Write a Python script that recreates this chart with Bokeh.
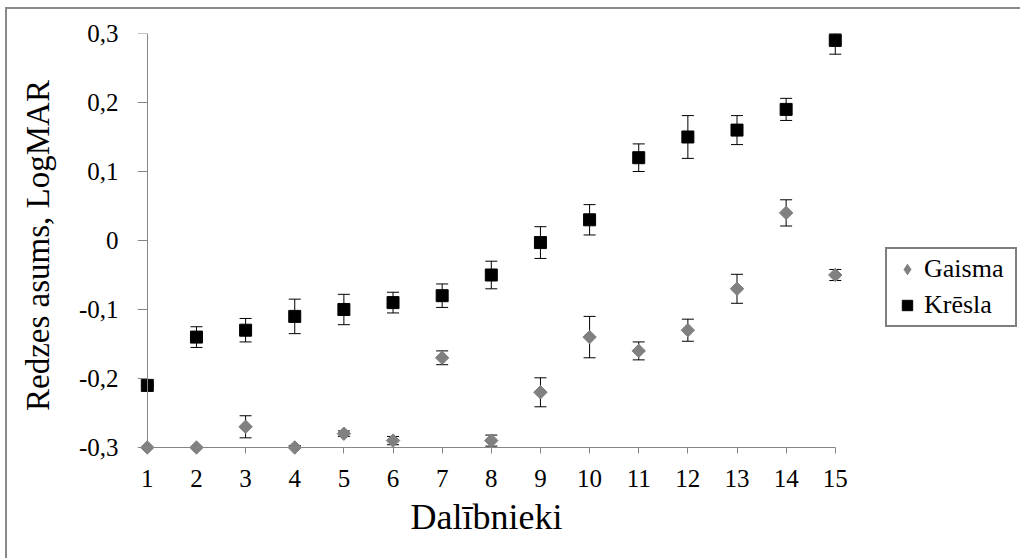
import numpy as np
from bokeh.plotting import figure
from bokeh.models import (ColumnDataSource, Whisker, TeeHead, Range1d,
                          FixedTicker, Legend, LegendItem, LinearAxis, Title)
from bokeh.embed import file_html
from bokeh.resources import INLINE

# --- data -------------------------------------------------------------
participants = list(range(1, 16))

gaisma = [-0.30, -0.30, -0.27, -0.30, -0.28, -0.29, -0.17, -0.29,
          -0.22, -0.14, -0.16, -0.13, -0.07, 0.04, -0.05]
gaisma_err = [0.0, 0.0, 0.016, 0.003, 0.004, 0.006, 0.010, 0.008,
              0.021, 0.030, 0.013, 0.016, 0.021, 0.019, 0.008]

kresla = [-0.21, -0.14, -0.13, -0.11, -0.10, -0.09, -0.08, -0.05,
          -0.003, 0.03, 0.12, 0.15, 0.16, 0.19, 0.29]
kresla_err = [0.0, 0.015, 0.017, 0.025, 0.022, 0.015, 0.017, 0.020,
              0.023, 0.022, 0.020, 0.031, 0.021, 0.016, 0.020]

y_ticks = [-0.3, -0.2, -0.1, 0.0, 0.1, 0.2, 0.3]
y_tick_labels = ["-0,3", "-0,2", "-0,1", "0", "0,1", "0,2", "0,3"]

X_MIN, X_MAX = 1, 15
Y_MIN, Y_MAX = -0.3, 0.3
FONT = "Liberation Serif"
AXIS_GREY = "#868686"
GREY = "#808080"


def bar_source(x, y, err):
    y = np.asarray(y, dtype=float)
    err = np.asarray(err, dtype=float)
    # error bars stop at the axis limits
    lower = np.maximum(y - err, Y_MIN)
    upper = np.minimum(y + err, Y_MAX)
    return ColumnDataSource(dict(x=x, y=y, lower=lower, upper=upper))


src_g = bar_source(participants, gaisma, gaisma_err)
src_k = bar_source(participants, kresla, kresla_err)

# the frame is padded a little past the axes so edge markers stay whole,
# and runs on to the right to hold the legend
p = figure(width=1015, height=551, output_backend="svg", toolbar_location=None,
           x_range=Range1d(0.8, 18.81), y_range=Range1d(-0.3145, Y_MAX),
           min_border_left=130, min_border_right=0,
           min_border_top=24, min_border_bottom=103,
           background_fill_color="white", border_fill_color="white")
p.outline_line_color = None
p.margin = (7, 0, 0, 5)
p.styles = {"border-top": "2px solid #8a8a8a", "border-left": "2px solid #8a8a8a"}
p.xgrid.visible = False
p.ygrid.visible = False


def make_whisker(src):
    head = dict(size=12, line_color="black", line_width=1)
    return Whisker(source=src, base="x", lower="lower", upper="upper",
                   line_color="black", line_width=1,
                   upper_head=TeeHead(**head), lower_head=TeeHead(**head))


p.add_layout(make_whisker(src_g))
p.add_layout(make_whisker(src_k))

# legend key for the light series: a diamond marker that sits wholly
# under the turned squares drawn next
r_g_key = p.scatter("x", "y", source=src_g, marker="diamond", size=11,
                    fill_color=GREY, line_color=GREY)
# diamonds: squares turned by 45 degrees
r_g = p.scatter("x", "y", source=src_g, marker="square", angle=np.pi / 4,
                size=9.5, fill_color=GREY, line_color=GREY)
r_k = p.scatter("x", "y", source=src_k, marker="square", size=12,
                fill_color="black", line_color="black")

# --- axes: outer ones carry the labels, inner ones draw line and ticks ----
xa = p.xaxis[0]
xa.ticker = FixedTicker(ticks=participants)
xa.major_label_standoff = 12

ya = p.yaxis[0]
ya.ticker = FixedTicker(ticks=y_ticks)
ya.major_label_overrides = dict(zip(y_ticks, y_tick_labels))
ya.major_label_standoff = 19
ya.axis_label = "Redzes asums, LogMAR"
ya.axis_label_standoff = 20

for ax in (xa, ya):
    ax.axis_line_color = None
    ax.major_tick_line_color = None
    ax.minor_tick_line_color = None
    ax.major_tick_in = 0
    ax.major_tick_out = 0
    ax.major_label_text_font = FONT
    ax.major_label_text_font_size = "25px"
    ax.major_label_text_color = "black"
ya.axis_label_text_font = FONT
ya.axis_label_text_font_style = "normal"
ya.axis_label_text_color = "black"
ya.axis_label_text_font_size = "33px"

x_line = LinearAxis(ticker=FixedTicker(ticks=participants), bounds=(X_MIN, X_MAX),
                    fixed_location=Y_MIN, major_tick_in=0, major_tick_out=6)
y_line = LinearAxis(ticker=FixedTicker(ticks=y_ticks), bounds=(Y_MIN, Y_MAX),
                    fixed_location=X_MIN, major_tick_in=0, major_tick_out=10)
for ax in (x_line, y_line):
    ax.axis_line_color = AXIS_GREY
    ax.major_tick_line_color = AXIS_GREY
    ax.minor_tick_line_color = None
    ax.major_label_text_font_size = "0px"
    ax.major_label_text_alpha = 0
    ax.major_label_standoff = 0
p.add_layout(x_line, "below")
p.add_layout(y_line, "left")

# x-axis title, placed under the span of the axis rather than the whole frame
x_title = Title(text="Dalībnieki", align="left", offset=273, standoff=10,
                text_font=FONT, text_font_size="36px", text_font_style="normal",
                text_color="black")
p.add_layout(x_title, "below")

# --- legend -----------------------------------------------------------
legend = Legend(items=[LegendItem(label="Gaisma", renderers=[r_g_key]),
                       LegendItem(label="Krēsla", renderers=[r_k])],
                location=(748, 130))
legend.border_line_color = "black"
legend.border_line_width = 2
legend.background_fill_color = "white"
legend.padding = 5
legend.margin = 0
legend.spacing = 6
legend.glyph_width = 30
legend.glyph_height = 26
legend.label_height = 29
legend.label_width = 86
legend.label_standoff = 2
legend.label_text_font = FONT
legend.label_text_font_size = "26px"
legend.label_text_color = "black"
p.add_layout(legend)

open("out.html", "w").write(file_html(p, INLINE))
